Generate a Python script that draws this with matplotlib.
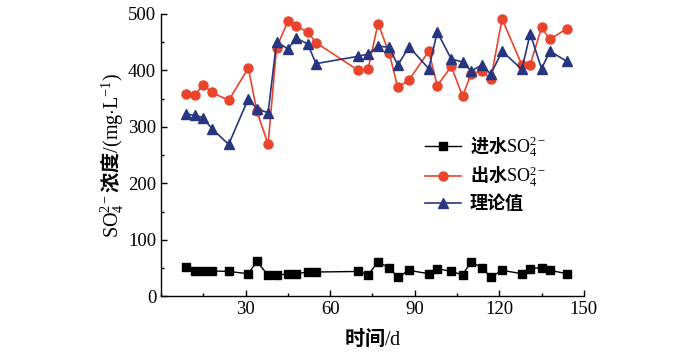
import matplotlib

matplotlib.use("Agg")
import matplotlib.pyplot as plt  # noqa: E402
from matplotlib.ticker import MultipleLocator  # noqa: E402

plt.rcParams["font.family"] = ["Liberation Serif", "Noto Sans CJK SC"]
plt.rcParams["mathtext.fontset"] = "custom"
plt.rcParams["mathtext.rm"] = "Liberation Serif"
plt.rcParams["mathtext.it"] = "Liberation Serif:italic"
plt.rcParams["mathtext.bf"] = "Liberation Serif:bold"

# sampling days
days = [9, 12, 15, 18, 24, 31, 34, 38, 41, 45, 48, 52, 55, 70, 73.5, 77,
        81, 84, 88, 95, 98, 103, 107, 110, 114, 117, 121, 128, 131, 135, 138, 144]
# influent SO4 (mg/L)
inflow = [52, 44, 44, 45, 44, 40, 62, 37, 37, 40, 40, 43, 43, 44, 38, 61,
          50, 34, 46, 40, 49, 44, 38, 61, 50, 34, 46, 40, 49, 51, 46, 40]
# effluent SO4 (mg/L)
outflow = [359, 356, 375, 361, 347, 404, 328, 269, 440, 487, 478, 468, 449, 400, 403, 483,
           430, 370, 383, 434, 373, 407, 354, 394, 399, 384, 491, 410, 410, 476, 455, 474]
# theoretical value (mg/L)
theory = [322, 321, 316, 297, 269, 350, 332, 325, 451, 438, 457, 447, 412, 425, 429, 443,
          441, 409, 442, 403, 468, 420, 415, 399, 410, 393, 434, 402, 465, 403, 434, 416]

labels = ["进水$\\mathrm{SO}_4^{2-}$", "出水$\\mathrm{SO}_4^{2-}$", "理论值"]

fig = plt.figure(figsize=(7, 3.57), dpi=100)
ax = fig.add_axes([0.23, 0.17, 0.604, 0.791])

ax.plot(days, inflow, color="black", marker="s", markersize=5.5, lw=1.0, label=labels[0])
ax.plot(days, outflow, color="#e8452c", marker="o", markersize=6.5, lw=1.2, label=labels[1])
ax.plot(days, theory, color="#27367f", marker="^", markersize=7, lw=1.2, label=labels[2])

ax.set_xlim(0, 150)
ax.set_ylim(0, 500)
ax.set_xticks([30, 60, 90, 120, 150])
ax.xaxis.set_minor_locator(MultipleLocator(15))
ax.yaxis.set_major_locator(MultipleLocator(100))
ax.yaxis.set_minor_locator(MultipleLocator(50))
ax.tick_params(which="both", direction="in", labelsize=13.5, width=1.0)
ax.tick_params(which="major", length=4.5)
ax.tick_params(which="minor", length=2.5)
for side in ("top", "right"):
    ax.spines[side].set_visible(False)
for side in ("left", "bottom"):
    ax.spines[side].set_linewidth(1.0)

ax.set_xlabel("时间$\\mathrm{/d}$", fontsize=14.5, fontweight="bold",
              family="Noto Sans CJK SC", labelpad=6)
ax.set_ylabel("$\\mathrm{SO}_4^{2-}$浓度$\\mathrm{/(mg{\\cdot}L^{-1})}$", fontsize=14.5,
              fontweight="bold", family="Noto Sans CJK SC", labelpad=2)

ax.legend(loc="upper left", bbox_to_anchor=(0.585, 0.63), frameon=False,
          prop={"family": "Noto Sans CJK SC", "size": 13, "weight": "bold"},
          handlelength=2.0, handletextpad=0.5, labelspacing=0.3)

fig.savefig("out.png", dpi=100)
